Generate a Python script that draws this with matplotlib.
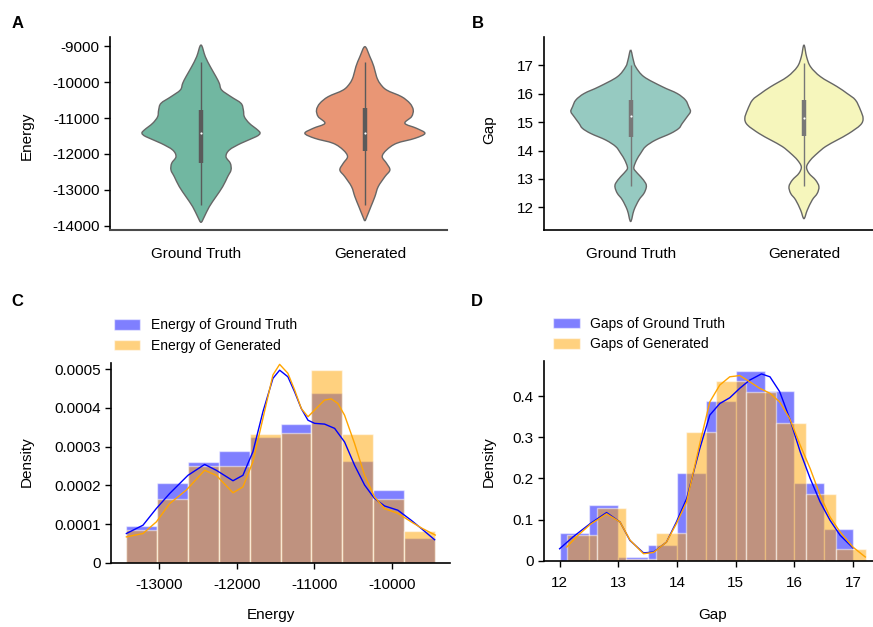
import numpy as np
import matplotlib
matplotlib.use('Agg')
import matplotlib.pyplot as plt
from matplotlib.path import Path
from matplotlib.patches import PathPatch

plt.rcParams['font.family'] = ['Liberation Sans', 'DejaVu Sans']
plt.rcParams['axes.unicode_minus'] = False

# ---------------- data ----------------
categories = ['Ground Truth', 'Generated']

# Panel A: violin outlines (energy level, relative half-width)
energy_gt_levels = [-8964, -9290, -9569, -9847, -10033, -10218, -10405, -10589, -10775, -10962,
                    -11146, -11333, -11425, -11520, -11703, -11890, -12077, -12261, -12448,
                    -12634, -12913, -13192, -13470, -13749, -13905]
energy_gt_width = [0, 13, 28, 45, 55, 62, 90, 120, 127, 130, 145, 170, 177, 165, 120, 85, 75,
                   88, 90, 80, 65, 45, 25, 10, 0]
energy_gen_levels = [-9010, -9289, -9568, -9846, -10032, -10218, -10404, -10590, -10775, -10961,
                     -11147, -11286, -11426, -11565, -11704, -11890, -12076, -12262, -12448,
                     -12634, -12912, -13191, -13470, -13748, -13860]
energy_gen_width = [0, 15, 27, 35, 45, 65, 110, 135, 145, 140, 120, 155, 180, 150, 95, 65, 52,
                    65, 75, 60, 40, 30, 18, 6, 0]
# box stats: whisker low, q1, median, q3, whisker high
energy_gt_box = [-13423, -12244, -11425, -10775, -9428]
energy_gen_box = [-13423, -11909, -11426, -10729, -9428]

# Panel B: violin outlines (gap level, relative half-width)
gap_gt_levels = [17.54, 17.19, 16.95, 16.6, 16.25, 16.01, 15.78, 15.54, 15.37, 15.19, 14.95,
                 14.78, 14.6, 14.37, 14.14, 13.9, 13.67, 13.43, 13.31, 13.08, 12.85, 12.7,
                 12.49, 12.26, 11.9, 11.5]
gap_gt_width = [0, 8, 15, 40, 95, 140, 165, 175, 180, 170, 155, 145, 120, 75, 45, 30, 18, 10,
                12, 30, 45, 47, 40, 25, 10, 0]
gap_gen_levels = [17.72, 17.3, 16.95, 16.6, 16.25, 16.01, 15.78, 15.43, 15.13, 14.9, 14.6,
                  14.37, 14.14, 13.9, 13.67, 13.43, 13.2, 12.96, 12.73, 12.49, 12.26, 11.9, 11.6]
gap_gen_width = [0, 8, 20, 50, 100, 130, 155, 170, 178, 170, 135, 100, 65, 40, 20, 8, 15, 35,
                 45, 40, 25, 10, 0]
gap_gt_box = [12.76, 14.49, 15.22, 15.78, 17.01]
gap_gen_box = [12.76, 14.51, 15.13, 15.78, 17.07]

# Panel C: energy histograms (density) and KDE curves
energy_edges = [-13420, -13023, -12626, -12229, -11832, -11435, -11038, -10641, -10244, -9847, -9450]
energy_gt_hist = [0.955e-4, 2.065e-4, 2.615e-4, 2.89e-4, 3.25e-4, 3.58e-4, 4.38e-4, 2.63e-4,
                  1.875e-4, 0.654e-4]
energy_gen_hist = [0.843e-4, 1.66e-4, 2.51e-4, 2.51e-4, 3.32e-4, 3.34e-4, 4.98e-4, 3.32e-4,
                   1.66e-4, 0.817e-4]
energy_gt_kde_x = [-13420, -13206, -13034, -12863, -12627, -12412, -12262, -12047, -11919, -11790,
                   -11661, -11532, -11446, -11340, -11253, -11167, -11081, -10996, -10867, -10738,
                   -10610, -10481, -10352, -10223, -10094, -9923, -9751, -9622, -9450]
energy_gt_kde_y = [0.76, 0.974, 1.405, 1.79, 2.26, 2.54, 2.39, 2.12, 2.26, 2.87, 3.90, 4.76, 4.97,
                   4.80, 4.41, 3.98, 3.68, 3.60, 3.58, 3.47, 3.12, 2.52, 2.01, 1.66, 1.47, 1.36,
                   1.10, 0.89, 0.60]
energy_gen_kde_x = [-13420, -13206, -13034, -12863, -12648, -12412, -12262, -12047, -11919, -11790,
                    -11661, -11532, -11446, -11340, -11253, -11167, -11081, -10996, -10867, -10781,
                    -10695, -10610, -10481, -10352, -10223, -10094, -9923, -9751, -9622, -9442]
energy_gen_kde_y = [0.673, 0.76, 1.06, 1.53, 1.88, 2.39, 2.26, 1.81, 1.96, 2.61, 3.73, 4.85, 5.12,
                    4.89, 4.46, 3.98, 3.77, 3.94, 4.20, 4.23, 4.11, 3.81, 3.08, 2.26, 1.70, 1.40,
                    1.28, 1.06, 0.905, 0.72]

# Panel D: gap histograms (density) and KDE curves
gap_gt_edges = [12.0, 12.5, 13.0, 13.5, 14.0, 14.5, 15.0, 15.5, 16.0, 16.5, 17.0]
gap_gt_hist = [0.067, 0.136, 0.009, 0.037, 0.212, 0.388, 0.461, 0.412, 0.189, 0.076]
gap_gen_edges = [12.119, 12.629, 13.138, 13.648, 14.158, 14.668, 15.177, 15.687, 16.197, 16.706, 17.216]
gap_gen_hist = [0.063, 0.129, 0.004, 0.067, 0.313, 0.4375, 0.409, 0.335, 0.163, 0.028]
gap_gt_kde_x = [12.0, 12.23, 12.52, 12.80, 13.03, 13.2, 13.43, 13.6, 13.82, 13.99, 14.165, 14.39,
                14.56, 14.73, 14.90, 15.07, 15.24, 15.44, 15.585, 15.75, 15.92, 16.10, 16.27,
                16.44, 16.61, 16.78, 17.0]
gap_gt_kde_y = [0.029, 0.058, 0.090, 0.117, 0.094, 0.049, 0.019, 0.021, 0.045, 0.094, 0.151, 0.273,
                0.354, 0.382, 0.396, 0.419, 0.439, 0.454, 0.447, 0.411, 0.346, 0.265, 0.20, 0.143,
                0.098, 0.062, 0.031]
gap_gen_kde_x = [12.12, 12.3, 12.52, 12.80, 13.03, 13.2, 13.43, 13.6, 13.82, 13.99, 14.165, 14.39,
                 14.56, 14.73, 14.90, 15.07, 15.24, 15.41, 15.585, 15.75, 15.92, 16.10, 16.27,
                 16.44, 16.61, 16.78, 17.0, 17.21]
gap_gen_kde_y = [0.033, 0.06, 0.088, 0.114, 0.094, 0.05, 0.017, 0.02, 0.045, 0.09, 0.143, 0.285,
                 0.386, 0.427, 0.447, 0.45, 0.435, 0.419, 0.407, 0.386, 0.346, 0.281, 0.224, 0.159,
                 0.106, 0.070, 0.033, 0.009]

energy_ticks = [-9000, -10000, -11000, -12000, -13000, -14000]
gap_ticks = [12, 13, 14, 15, 16, 17]
energy_x_ticks = [-13000, -12000, -11000, -10000]
density_c_ticks = [0, 0.0001, 0.0002, 0.0003, 0.0004, 0.0005]
density_c_labels = ['0', '0.0001', '0.0002', '0.0003', '0.0004', '0.0005']
density_d_ticks = [0, 0.1, 0.2, 0.3, 0.4]
density_d_labels = ['0', '0.1', '0.2', '0.3', '0.4']

# ---------------- layout ----------------
W, H = 873, 627
fig = plt.figure(figsize=(W / 100, H / 100), dpi=100)


def rect(l, t, r, b):
    return [l / W, 1 - b / H, (r - l) / W, (b - t) / H]


def style_axes(ax, bottom_color='black'):
    for s in ['top', 'right']:
        ax.spines[s].set_visible(False)
    ax.spines['left'].set_linewidth(1.2)
    ax.spines['bottom'].set_linewidth(1.2)
    ax.spines['bottom'].set_color(bottom_color)
    ax.tick_params(labelsize=11, length=4, width=1, colors='black')


def place_label(ax, r, x_px, y_px, axis):
    # put the centre of an axis label at a pixel position (x_px, y_px)
    l, t, rr, b = r
    lab = ax.xaxis.label if axis == 'x' else ax.yaxis.label
    lab.set_verticalalignment('center')
    lab.set_horizontalalignment('center')
    if axis == 'x':
        ax.xaxis.set_label_coords((x_px - l) / (rr - l), (b - y_px) / (b - t))
    else:
        lab.set_rotation_mode('default')
        ax.yaxis.set_label_coords((x_px - l) / (rr - l), (b - y_px) / (b - t))


HALF = 0.345


def smooth_closed_path(pts):
    # closed Catmull-Rom outline through the read points, as cubic Bezier segments
    n = len(pts)
    verts = [pts[0]]
    codes = [Path.MOVETO]
    for i in range(n):
        p0, p1, p2, p3 = pts[i - 1], pts[i], pts[(i + 1) % n], pts[(i + 2) % n]
        c1 = p1 + (p2 - p0) / 6.0
        c2 = p2 - (p3 - p1) / 6.0
        verts += [c1, c2, p2]
        codes += [Path.CURVE4] * 3
    codes[-1] = Path.CURVE4
    return Path(np.array(verts), codes)


def violin(ax, pos, levels, widths, color, box, boxc):
    y = np.array(levels, dtype=float)
    w = np.array(widths, dtype=float) / 180.0 * HALF
    right = np.column_stack([pos + w, y])
    left = np.column_stack([pos - w[1:-1], y[1:-1]])[::-1]
    pts = np.vstack([right, left])
    patch = PathPatch(smooth_closed_path(pts), facecolor=color, edgecolor='#666666', lw=1.0,
                      zorder=1)
    ax.add_patch(patch)
    wlo, q1, med, q3, whi = box
    ax.plot([pos, pos], [wlo, whi], color=boxc, lw=1.0, solid_capstyle='butt', zorder=2)
    ax.plot([pos, pos], [q1, q3], color=boxc, lw=3.2, solid_capstyle='butt', zorder=3)
    ax.scatter([pos], [med], s=2.5, color='white', zorder=4, linewidths=0)


# Panel A
rA = (110, 37, 447, 230)
axA = fig.add_axes(rect(*rA))
violin(axA, 0.029, energy_gt_levels, energy_gt_width, '#71b7a1', energy_gt_box, '#5a5a5a')
violin(axA, 0.971, energy_gen_levels, energy_gen_width, '#e99675', energy_gen_box, '#5a5a5a')
axA.set_xlim(-0.494, 1.443)
axA.set_ylim(-14120, -8741)
axA.set_yticks(energy_ticks)
axA.set_xticks([0, 1])
axA.set_xticklabels(categories)
style_axes(axA, bottom_color='#4a4a4a')
axA.spines['bottom'].set_linewidth(1.5)
axA.tick_params(axis='x', length=0, pad=12)
axA.set_ylabel('Energy', fontsize=11)
place_label(axA, rA, 27, 136, 'y')

# Panel B
rB = (544, 37, 544 + 346.6, 230)
axB = fig.add_axes(rect(*rB))
violin(axB, 0.0, gap_gt_levels, gap_gt_width, '#96cac1', gap_gt_box, '#777777')
violin(axB, 1.0, gap_gen_levels, gap_gen_width, '#f6f6bc', gap_gen_box, '#777777')
axB.set_xlim(-0.5, 1.5)
axB.set_ylim(11.2, 18.0)
axB.set_yticks(gap_ticks)
axB.set_xticks([0, 1])
axB.set_xticklabels(categories)
style_axes(axB)
axB.tick_params(axis='x', length=0, pad=12)
axB.set_ylabel('Gap', fontsize=11)
place_label(axB, rB, 489, 130, 'y')

# Panel C
rC = (111, 363, 450, 563)
axC = fig.add_axes(rect(*rC))
ee = np.array(energy_edges, dtype=float)
axC.bar(ee[:-1], energy_gt_hist, width=np.diff(ee), align='edge', color='blue', alpha=0.5,
        edgecolor='white', linewidth=1.0, label='Energy of Ground Truth')
axC.bar(ee[:-1], energy_gen_hist, width=np.diff(ee), align='edge', color='orange', alpha=0.5,
        edgecolor='white', linewidth=1.0, label='Energy of Generated')
axC.plot(energy_gt_kde_x, np.array(energy_gt_kde_y) * 1e-4, color='blue', lw=1.0)
axC.plot(energy_gen_kde_x, np.array(energy_gen_kde_y) * 1e-4, color='orange', lw=1.0)
axC.set_xlim(-13618, -9252)
axC.set_ylim(0, 0.0005155)
axC.set_xticks(energy_x_ticks)
axC.set_yticks(density_c_ticks)
axC.set_yticklabels(density_c_labels)
style_axes(axC)
axC.tick_params(axis='x', pad=7)
axC.set_xlabel('Energy', fontsize=11)
axC.set_ylabel('Density', fontsize=11)
place_label(axC, rC, 271, 615, 'x')
place_label(axC, rC, 27, 462, 'y')
axC.legend(loc='upper left', bbox_to_anchor=(114 / W, 1 - 318.5 / H),
           bbox_transform=fig.transFigure, frameon=False, fontsize=10, borderpad=0,
           borderaxespad=0, handlelength=1.9, handleheight=0.8, handletextpad=0.75,
           labelspacing=0.45)

# Panel D
rD = (544.3, 361, 544.3 + 336.9, 560.7)
axD = fig.add_axes(rect(*rD))
ge = np.array(gap_gt_edges)
gg = np.array(gap_gen_edges)
axD.bar(ge[:-1], gap_gt_hist, width=np.diff(ge), align='edge', color='blue', alpha=0.5,
        edgecolor='white', linewidth=1.0, label='Gaps of Ground Truth')
axD.bar(gg[:-1], gap_gen_hist, width=np.diff(gg), align='edge', color='orange', alpha=0.5,
        edgecolor='white', linewidth=1.0, label='Gaps of Generated')
axD.plot(gap_gt_kde_x, gap_gt_kde_y, color='blue', lw=1.0)
axD.plot(gap_gen_kde_x, gap_gen_kde_y, color='orange', lw=1.0)
axD.set_xlim(11.739, 17.481)
axD.set_ylim(0, 0.4854)
axD.set_xticks(gap_ticks)
axD.set_yticks(density_d_ticks)
axD.set_yticklabels(density_d_labels)
style_axes(axD)
axD.tick_params(axis='x', pad=7)
axD.set_xlabel('Gap', fontsize=11)
axD.set_ylabel('Density', fontsize=11)
place_label(axD, rD, 712.8, 615, 'x')
place_label(axD, rD, 489, 462, 'y')
axD.legend(loc='upper left', bbox_to_anchor=(553.3 / W, 1 - 317 / H),
           bbox_transform=fig.transFigure, frameon=False, fontsize=10, borderpad=0,
           borderaxespad=0, handlelength=1.9, handleheight=0.8, handletextpad=0.75,
           labelspacing=0.45)

# panel letters
for letter, x, y in [('A', 18, 24), ('B', 477.5, 24), ('C', 17, 302), ('D', 477, 302)]:
    fig.text(x / W, 1 - y / H, letter, fontsize=12, fontweight='bold', ha='center', va='center')

fig.savefig('out.png', dpi=100)
